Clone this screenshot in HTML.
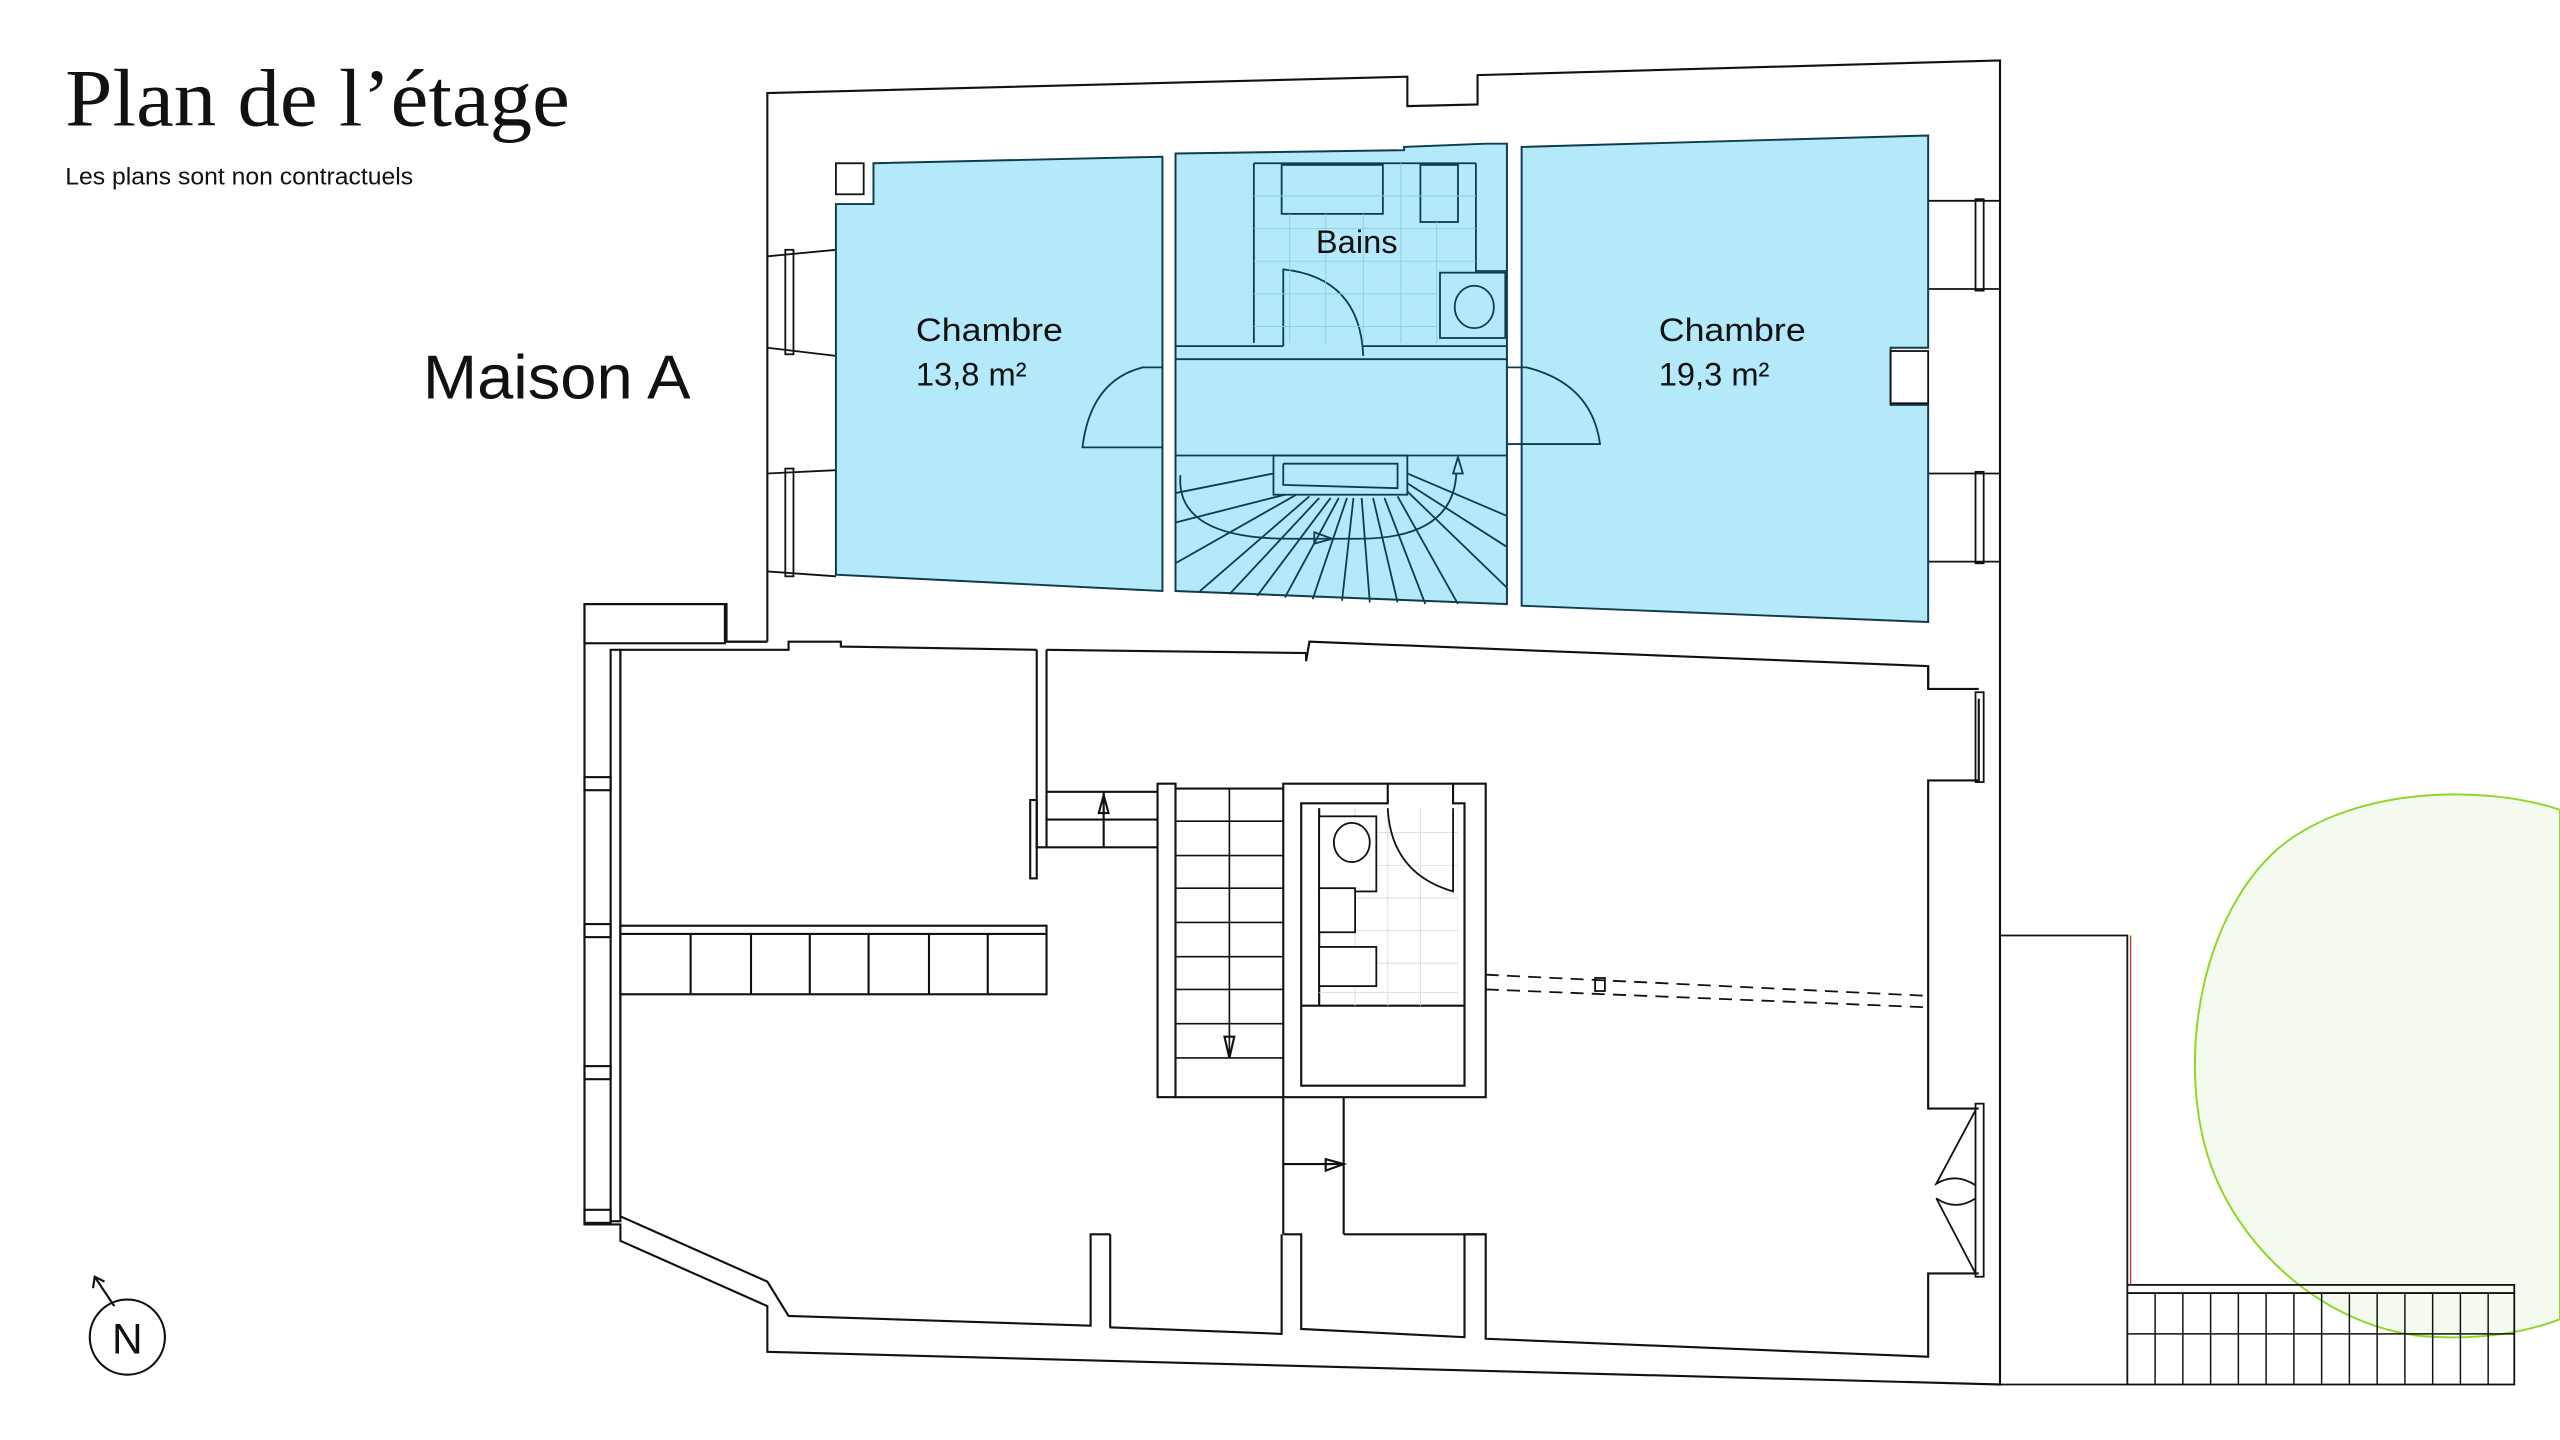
<!DOCTYPE html>
<html><head><meta charset="utf-8"><style>
html,body{margin:0;padding:0;background:#fff;}
svg{display:block}
</style></head><body>
<svg width="2560" height="1440" viewBox="0 0 1568 882" xmlns="http://www.w3.org/2000/svg">
<rect width="1568" height="882" fill="#fff"/>
<!-- tree -->
<path d="M1568,496 C1520,480 1440,482 1395,520 C1350,560 1335,640 1350,700 C1365,760 1420,810 1480,818 C1520,822 1550,815 1568,808 Z" fill="#f4faee" stroke="#8fd62a" stroke-width="1.2"/>
<g fill="none" stroke="#111" stroke-width="1.3">
<!-- outer building -->
<polyline points="470,393 470,57 862,47 862,65 905,64 905,46 1225,37 1225,848 470,828 470,800 380,760 380,750 358,750 358,370 445,370 445,393 470,393"/>
<line x1="445" y1="393" x2="470" y2="393"/>
<rect x="358" y="370" width="86" height="24"/>
<!-- interior lower -->
<polyline points="380,398 483,398 483,393 515,393 515,396 635,398"/>
<polyline points="641,398 800,400 800,405 802,393 1181,408 1181,422 1212,422"/>
<polyline points="1181,408 1181,422"/>
<polyline points="1212,428 1212,478 1181,478 1181,679 1212,679"/>
<polyline points="1212,780 1181,780 1181,831 910,820 910,756 897,756 897,819 797,814 797,756 786,756"/>
<polyline points="823,756 910,756"/>
<polyline points="786,756 786,672"/>
<polyline points="823,756 823,672"/>
<line x1="786" y1="713" x2="823" y2="713"/>
<polygon points="812,710 823,713 812,717"/>
<polyline points="680,756 668,756 668,812 483,806 470,785 380,745 380,398"/>
<polyline points="680,756 680,813 785,817 785,756"/>
<rect x="374" y="398" width="6" height="350"/>
<rect x="358" y="476" width="16" height="8"/><rect x="358" y="566" width="16" height="8"/><rect x="358" y="653" width="16" height="8"/><rect x="358" y="741" width="16" height="8"/>
<!-- left partition -->
<polyline points="635,398 635,519 641,519 641,398"/>
<rect x="631" y="490" width="4" height="48"/>
<polyline points="641,485 709,485"/><polyline points="641,502 709,502"/><line x1="676" y1="485" x2="676" y2="519"/>
<line x1="641" y1="519" x2="709" y2="519"/>
<polygon points="673,498 676,487 679,498"/>
<!-- shelves -->
<rect x="380" y="567" width="261" height="42"/>
<line x1="380" y1="572" x2="641" y2="572"/>
<line x1="423" y1="572" x2="423" y2="609"/><line x1="460" y1="572" x2="460" y2="609"/><line x1="496" y1="572" x2="496" y2="609"/><line x1="532" y1="572" x2="532" y2="609"/><line x1="569" y1="572" x2="569" y2="609"/><line x1="605" y1="572" x2="605" y2="609"/>
<!-- lower stair -->
<rect x="709" y="480" width="11" height="192"/>
<line x1="720" y1="483" x2="786" y2="483"/><line x1="720" y1="672" x2="786" y2="672"/>
<g stroke-width="1">
<line x1="720" y1="503" x2="786" y2="503"/><line x1="720" y1="524" x2="786" y2="524"/><line x1="720" y1="544" x2="786" y2="544"/><line x1="720" y1="565" x2="786" y2="565"/><line x1="720" y1="586" x2="786" y2="586"/><line x1="720" y1="606" x2="786" y2="606"/><line x1="720" y1="627" x2="786" y2="627"/><line x1="720" y1="648" x2="786" y2="648"/>
<line x1="753" y1="483" x2="753" y2="648"/>
</g>
<polygon points="750,635 753,648 756,635"/>
<!-- lower bath -->
<polyline points="786,672 786,480 850,480 850,492 797,492 797,665 897,665 897,492 890,492 890,480 910,480 910,672 786,672"/>
<line x1="850" y1="480" x2="890" y2="480"/>
<line x1="797" y1="616" x2="897" y2="616"/>
<line x1="808" y1="495" x2="808" y2="616"/>
</g>
<g stroke="#ddd" stroke-width="0.6">
<line x1="808" y1="510" x2="893" y2="510"/><line x1="808" y1="530" x2="893" y2="530"/><line x1="808" y1="550" x2="893" y2="550"/><line x1="808" y1="570" x2="893" y2="570"/><line x1="808" y1="590" x2="893" y2="590"/><line x1="808" y1="608" x2="893" y2="608"/>
<line x1="830" y1="495" x2="830" y2="616"/><line x1="850" y1="495" x2="850" y2="616"/><line x1="870" y1="495" x2="870" y2="616"/>
</g>
<g fill="none" stroke="#111" stroke-width="1.1">
<rect x="808" y="500" width="35" height="46" fill="#fff"/><ellipse cx="828" cy="516" rx="11" ry="12"/>
<rect x="808" y="544" width="22" height="27" fill="#fff"/>
<rect x="808" y="580" width="35" height="24" fill="#fff"/>
<path d="M850,495 Q852,535 890,546 L890,495"/>
<!-- dashed beam -->
<path d="M910,597 L1181,610 M910,606 L1181,617" stroke-dasharray="8,5"/>
<rect x="977" y="599" width="6" height="8"/>
<!-- right side windows/doors -->
<rect x="1210" y="122" width="5" height="56"/><line x1="1181" y1="123" x2="1225" y2="123"/><line x1="1181" y1="177" x2="1225" y2="177"/>
<rect x="1210" y="289" width="5" height="56"/><line x1="1181" y1="290" x2="1225" y2="290"/><line x1="1181" y1="344" x2="1225" y2="344"/>
<rect x="1210" y="424" width="5" height="55"/>
<rect x="1210" y="676" width="5" height="106"/>
<path d="M1210,680 L1186,725 Q1198,718 1210,726 M1210,780 L1186,734 Q1198,742 1210,734"/>
<!-- left windows upper -->
<rect x="481" y="153" width="5" height="64"/><line x1="470" y1="157" x2="512" y2="153"/><line x1="470" y1="213" x2="512" y2="218"/>
<rect x="481" y="287" width="5" height="66"/><line x1="470" y1="290" x2="512" y2="288"/><line x1="470" y1="350" x2="512" y2="353"/>
<!-- terrace -->
<polyline points="1225,573 1303,573 1303,787"/>
<polyline points="1225,848 1303,848"/>
<rect x="1303" y="787" width="237" height="61"/>
<line x1="1303" y1="792" x2="1540" y2="792"/>
<g stroke-width="0.9">
<line x1="1320" y1="792" x2="1320" y2="848"/><line x1="1337" y1="792" x2="1337" y2="848"/><line x1="1354" y1="792" x2="1354" y2="848"/><line x1="1371" y1="792" x2="1371" y2="848"/><line x1="1388" y1="792" x2="1388" y2="848"/><line x1="1405" y1="792" x2="1405" y2="848"/><line x1="1422" y1="792" x2="1422" y2="848"/><line x1="1439" y1="792" x2="1439" y2="848"/><line x1="1456" y1="792" x2="1456" y2="848"/><line x1="1473" y1="792" x2="1473" y2="848"/><line x1="1490" y1="792" x2="1490" y2="848"/><line x1="1507" y1="792" x2="1507" y2="848"/><line x1="1524" y1="792" x2="1524" y2="848"/>
<line x1="1303" y1="817" x2="1540" y2="817"/>
</g>
</g>
<line x1="1305" y1="573" x2="1305" y2="787" stroke="#c0392b" stroke-width="0.8"/>
<!-- blue rooms -->
<g fill="#b3e9f9" stroke="#0e3c4e" stroke-width="1.2">
<polygon points="512,125 535,125 535,100 712,96 712,362 512,352"/>
<polygon points="720,94 860,92 860,90 910,88 923,88 923,370 720,362"/>
<polygon points="932,90 1181,83 1181,213 1158,213 1158,248 1181,248 1181,381 932,371"/>
</g>
<g fill="none" stroke="#0e3c4e" stroke-width="1.1">
<rect x="512" y="100" width="17" height="19" fill="#fff" stroke="#111"/>
<rect x="1158" y="215" width="23" height="32" fill="#fff" stroke="#111"/>
<!-- bath top -->
<line x1="768" y1="100" x2="904" y2="100"/><line x1="768" y1="100" x2="768" y2="210"/>
<rect x="785" y="101" width="62" height="30"/><rect x="870" y="101" width="23" height="35"/>
<polyline points="904,100 904,166 923,166"/>
<rect x="882" y="167" width="40" height="40"/><ellipse cx="903" cy="188" rx="12" ry="13"/>
<line x1="720" y1="212" x2="786" y2="212"/><line x1="835" y1="212" x2="923" y2="212"/>
<path d="M786,212 L786,165 Q833,170 835,218"/>
<line x1="720" y1="220" x2="923" y2="220"/>
<line x1="720" y1="279" x2="923" y2="279"/>
<!-- doors -->
<path d="M712,225 L700,225 Q668,233 663,274 L712,274"/>
<path d="M923,225 L935,225 Q975,235 980,272 L923,272"/>
<!-- spiral stair -->
<rect x="780" y="279" width="82" height="24"/><polyline points="786,284 856,284 856,299 786,297 786,284"/>
<path d="M723,291 Q720,330 790,330 L832,330 Q890,330 892,290"/>
<polygon points="805,326 816,330 805,333"/><polygon points="890,290 893,280 896,290"/>
<line x1="720" y1="302" x2="780" y2="290"/><line x1="720" y1="320" x2="787" y2="303"/><line x1="720" y1="345" x2="794" y2="303"/>
<line x1="735" y1="362" x2="802" y2="304"/><line x1="753" y1="364" x2="808" y2="305"/><line x1="770" y1="365" x2="815" y2="305"/><line x1="787" y1="366" x2="820" y2="305"/><line x1="804" y1="367" x2="825" y2="305"/><line x1="822" y1="368" x2="829" y2="305"/><line x1="839" y1="369" x2="834" y2="305"/><line x1="856" y1="369" x2="841" y2="305"/><line x1="873" y1="370" x2="848" y2="305"/><line x1="893" y1="370" x2="856" y2="304"/><line x1="923" y1="360" x2="862" y2="301"/><line x1="923" y1="335" x2="862" y2="296"/><line x1="923" y1="316" x2="862" y2="290"/>
</g>
<g stroke="#8ccfe3" stroke-width="0.6">
<line x1="768" y1="120" x2="904" y2="120"/><line x1="768" y1="140" x2="904" y2="140"/><line x1="768" y1="160" x2="904" y2="160"/><line x1="768" y1="180" x2="880" y2="180"/><line x1="768" y1="200" x2="880" y2="200"/>
<line x1="790" y1="131" x2="790" y2="210"/><line x1="812" y1="131" x2="812" y2="210"/><line x1="835" y1="131" x2="835" y2="210"/><line x1="858" y1="100" x2="858" y2="210"/><line x1="880" y1="136" x2="880" y2="210"/>
</g>
<!-- texts -->
<text x="40" y="77" font-family="'Liberation Serif',serif" font-size="50" fill="#111" textLength="309" lengthAdjust="spacingAndGlyphs">Plan de l’étage</text>
<text x="40" y="113" font-family="'Liberation Sans',sans-serif" font-size="15" fill="#111" textLength="213" lengthAdjust="spacingAndGlyphs">Les plans sont non contractuels</text>
<text x="259" y="244" font-family="'Liberation Sans',sans-serif" font-size="38" fill="#111" textLength="164" lengthAdjust="spacingAndGlyphs">Maison A</text>
<g font-family="'Liberation Sans',sans-serif" font-size="20" fill="#111">
<text x="561" y="209" textLength="90" lengthAdjust="spacingAndGlyphs">Chambre</text><text x="561" y="236">13,8 m²</text>
<text x="806" y="155">Bains</text>
<text x="1016" y="209" textLength="90" lengthAdjust="spacingAndGlyphs">Chambre</text><text x="1016" y="236">19,3 m²</text>
</g>
<!-- north -->
<circle cx="78" cy="819" r="23" fill="none" stroke="#111" stroke-width="1.3"/>
<text x="78" y="829" text-anchor="middle" font-family="'Liberation Sans',sans-serif" font-size="26" fill="#111">N</text>
<line x1="70" y1="800" x2="58" y2="782" stroke="#111" stroke-width="1.3"/>
<polyline points="57,789 58,782 64,785" fill="none" stroke="#111" stroke-width="1.3"/>
</svg>
</body></html>
